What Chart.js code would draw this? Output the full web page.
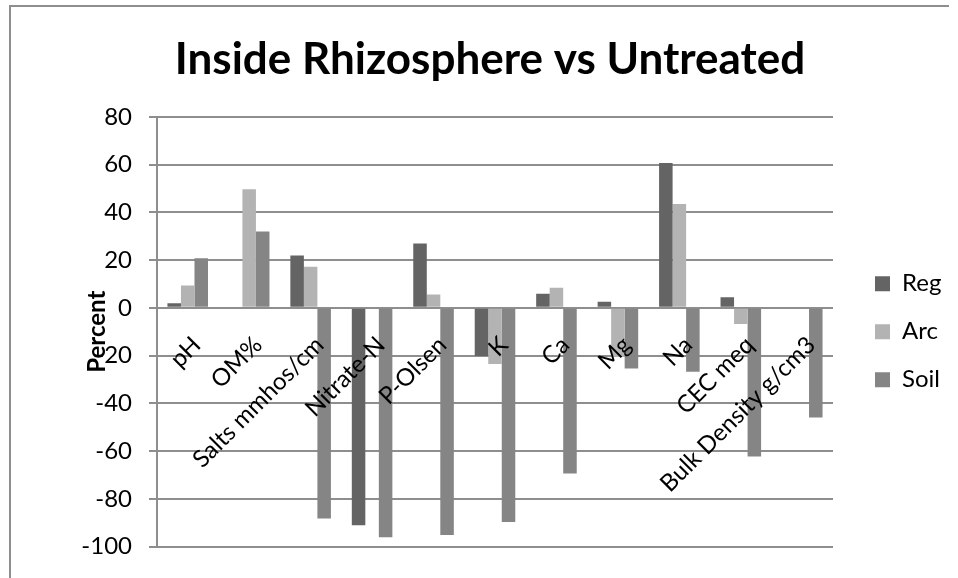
<!DOCTYPE html>
<html>
<head>
<meta charset="utf-8">
<title>Inside Rhizosphere vs Untreated</title>
<script src="https://cdn.jsdelivr.net/npm/chart.js@4.4.1/dist/chart.umd.min.js"></script>
<style>
  html, body { margin: 0; padding: 0; background: #fff; }
  #wrap { position: relative; width: 958px; height: 578px; overflow: hidden; }
  #frame { position: absolute; left: 9px; top: 5px; width: 938px; height: 600px;
           border-left: 2px solid #8e8e8e; border-top: 2px solid #8e8e8e; pointer-events: none; }
</style>
</head>
<body>
<div id="wrap">
  <canvas id="barChart" width="958" height="578"></canvas>
  <div id="frame"></div>
</div>
<script>
// data (percent change)
var categories = ['pH', 'OM%', 'Salts mmhos/cm', 'Nitrate-N', 'P-Olsen', 'K', 'Ca', 'Mg', 'Na', 'CEC meq', 'Bulk Density g/cm3'];
var regValues  = [1.9, -0.4, 21.9, -91.1, 26.9, -20.2, 5.9, 2.5, 60.6, 4.4, 0];
var arcValues  = [9.4, 49.7, 17.2, 0, 5.6, -23.5, 8.4, -20.6, 43.5, -6.8, 0];
var soilValues = [20.8, 32.0, -88.2, -96.1, -95.1, -89.7, -69.4, -25.4, -26.8, -62.3, -45.9];
var yTicksMin = -100, yTicksMax = 80, yTickStep = 20;

var colorReg = '#646464';
var colorArc = '#b3b3b3';
var colorSoil = '#858585';
var gridColor = '#8e8e8e';

Chart.defaults.font.family = 'Lato, "Open Sans", sans-serif';
Chart.defaults.color = '#000';

// legend box width and spot, like the excel one
var legendFix = {
  id: 'legendFix',
  afterInit: function(chart) {
    var lg = chart.legend;
    var fit = lg.fit;
    lg.fit = function() {
      fit.call(this);
      this.width = 125;
    };
  },
  afterLayout: function(chart) {
    var lg = chart.legend;
    lg.left = 851;
    lg.right = lg.left + lg.width;
    // title is a bit right of center in the original
    chart.titleBlock.left += 11;
    chart.titleBlock.right += 11;
  }
};

var barData = {
  labels: categories,
  datasets: [
    { label: 'Reg',  backgroundColor: colorReg,  borderWidth: 0, data: regValues },
    { label: 'Arc',  backgroundColor: colorArc,  borderWidth: 0, data: arcValues },
    { label: 'Soil', backgroundColor: colorSoil, borderWidth: 0, data: soilValues }
  ]
};

var barOptions = {
  responsive: false,
  animation: false,
  layout: { padding: { left: 0, right: 0, top: 0, bottom: 26 } },
  datasets: { bar: { barPercentage: 1, categoryPercentage: 0.66 } },
  plugins: {
    title: {
      display: true,
      text: 'Inside Rhizosphere vs Untreated',
      font: { size: 44, weight: 'bold' },
      color: '#000',
      padding: { top: 33, bottom: 31 }
    },
    legend: {
      position: 'right',
      fullSize: false,
      labels: { boxWidth: 15, boxHeight: 15, padding: 24, font: { size: 24 }, color: '#000' }
    },
    tooltip: { enabled: false }
  },
  scales: {
    x: {
      position: { y: 0 },
      grid: { display: false, drawTicks: false },
      border: { display: false },
      // z above 0 so the labels sit on top of the bars
      ticks: { z: 1, autoSkip: false, minRotation: 45, maxRotation: 45, padding: 23, labelOffset: 9,
               font: { size: 24 }, color: '#000' }
    },
    y: {
      min: yTicksMin,
      max: yTicksMax,
      ticks: { stepSize: yTickStep, padding: 17, font: { size: 24 }, color: '#000' },
      grid: { color: gridColor, lineWidth: 2, tickLength: 8 },
      border: { color: gridColor, width: 2 },
      title: { display: true, text: 'Percent', font: { size: 24, weight: 'bold' }, color: '#000', padding: { top: 83 } },
      afterFit: function(scale) { scale.width = 157; }
    }
  }
};

var ctx2 = document.getElementById('barChart').getContext('2d');
var chart = new Chart(ctx2, { type: 'bar', data: barData, options: barOptions, plugins: [legendFix] });
</script>
</body>
</html>
